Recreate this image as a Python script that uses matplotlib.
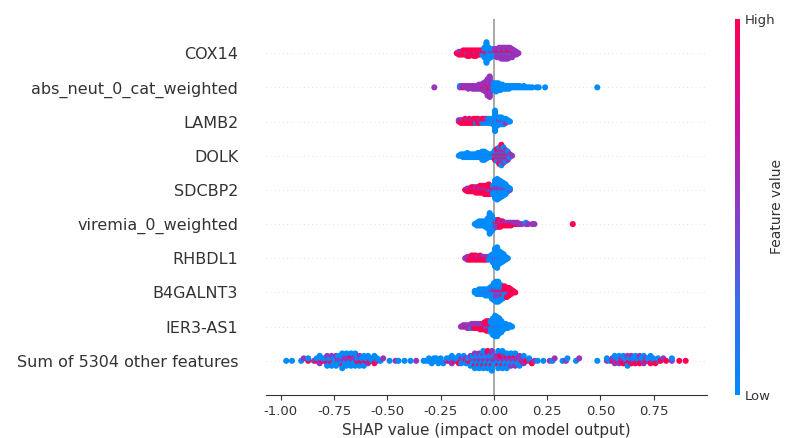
import numpy as np
import matplotlib
matplotlib.use("Agg")
import matplotlib.pyplot as plt
from matplotlib.colors import LinearSegmentedColormap

features = ["COX14", "abs_neut_0_cat_weighted", "LAMB2", "DOLK", "SDCBP2",
            "viremia_0_weighted", "RHBDL1", "B4GALNT3", "IER3-AS1",
            "Sum of 5304 other features"]

# clusters: (SHAP value, n high, n mid, n low)
cox14 = [(-0.175, 1, 0, 0), (-0.165, 2, 1, 0), (-0.155, 2, 1, 0), (-0.145, 3, 1, 0),
         (-0.135, 3, 1, 0), (-0.125, 3, 1, 1), (-0.115, 4, 1, 0), (-0.105, 3, 1, 0),
         (-0.095, 4, 1, 0), (-0.085, 3, 1, 1), (-0.075, 3, 1, 0), (-0.065, 3, 1, 0),
         (-0.055, 2, 1, 1), (-0.045, 2, 1, 5), (-0.035, 2, 2, 12), (-0.025, 1, 1, 7),
         (-0.015, 1, 2, 4), (-0.005, 1, 2, 3), (0.005, 1, 3, 2), (0.015, 2, 4, 1),
         (0.025, 2, 5, 1), (0.035, 2, 5, 2), (0.045, 3, 5, 1), (0.055, 2, 5, 2),
         (0.065, 3, 5, 1), (0.075, 2, 5, 1), (0.085, 2, 4, 1), (0.095, 1, 3, 0),
         (0.105, 1, 2, 0), (0.115, 0, 1, 0)]

abs_neut = [(-0.28, 0, 1, 0), (-0.16, 0, 1, 1), (-0.15, 0, 2, 0), (-0.14, 1, 1, 0),
            (-0.13, 0, 2, 0), (-0.12, 1, 2, 0), (-0.11, 0, 2, 0), (-0.10, 1, 2, 0),
            (-0.09, 1, 2, 0), (-0.08, 1, 2, 0), (-0.07, 1, 3, 0), (-0.06, 1, 3, 0),
            (-0.05, 2, 4, 0), (-0.04, 2, 6, 0), (-0.03, 3, 9, 1), (-0.02, 4, 12, 0),
            (-0.01, 1, 4, 1), (0.00, 0, 1, 5), (0.01, 0, 0, 7), (0.02, 0, 0, 6),
            (0.03, 0, 0, 5), (0.04, 0, 0, 4), (0.05, 0, 0, 3), (0.06, 0, 0, 3),
            (0.07, 0, 0, 3), (0.08, 0, 0, 2), (0.09, 0, 0, 2), (0.10, 0, 0, 2),
            (0.11, 0, 0, 2), (0.12, 0, 0, 2), (0.13, 0, 0, 1), (0.14, 0, 0, 2),
            (0.15, 0, 0, 1), (0.16, 0, 0, 1), (0.17, 0, 0, 1), (0.18, 0, 0, 1),
            (0.20, 0, 0, 1), (0.21, 0, 0, 1), (0.24, 0, 0, 1), (0.485, 0, 0, 1)]

lamb2 = [(-0.165, 1, 1, 0), (-0.155, 2, 1, 0), (-0.145, 2, 1, 0), (-0.135, 3, 1, 0),
         (-0.125, 2, 1, 0), (-0.115, 3, 1, 0), (-0.105, 2, 1, 0), (-0.095, 3, 1, 0),
         (-0.085, 2, 1, 1), (-0.075, 3, 1, 0), (-0.065, 2, 1, 0), (-0.055, 2, 1, 1),
         (-0.045, 2, 1, 1), (-0.035, 1, 2, 1), (-0.025, 1, 1, 2), (-0.015, 1, 1, 2),
         (-0.005, 0, 1, 4), (0.005, 0, 2, 14), (0.015, 0, 1, 6), (0.025, 1, 2, 3),
         (0.035, 0, 2, 4), (0.045, 1, 1, 3), (0.055, 0, 2, 2), (0.065, 0, 1, 1),
         (0.075, 0, 0, 1)]

dolk = [(-0.165, 0, 0, 1), (-0.155, 0, 0, 2), (-0.145, 0, 0, 3), (-0.135, 0, 0, 3),
        (-0.125, 0, 1, 3), (-0.115, 0, 0, 3), (-0.105, 0, 0, 3), (-0.095, 0, 0, 3),
        (-0.085, 0, 0, 3), (-0.075, 0, 1, 3), (-0.065, 0, 0, 4), (-0.055, 0, 1, 6),
        (-0.045, 0, 1, 6), (-0.035, 0, 0, 5), (-0.025, 0, 1, 2), (-0.015, 0, 1, 2),
        (-0.005, 1, 1, 2), (0.005, 3, 2, 3), (0.015, 4, 3, 3), (0.025, 5, 4, 4),
        (0.035, 6, 5, 5), (0.045, 4, 4, 4), (0.055, 3, 3, 3), (0.065, 2, 3, 2),
        (0.075, 1, 1, 1), (0.085, 0, 1, 0)]

sdcbp2 = [(-0.135, 1, 0, 0), (-0.125, 2, 1, 0), (-0.115, 2, 1, 0), (-0.105, 3, 1, 0),
          (-0.095, 3, 1, 0), (-0.085, 3, 2, 0), (-0.075, 4, 1, 0), (-0.065, 4, 2, 0),
          (-0.055, 4, 2, 0), (-0.045, 5, 2, 0), (-0.035, 5, 2, 0), (-0.025, 5, 2, 1),
          (-0.015, 4, 2, 1), (-0.005, 2, 2, 3), (0.005, 1, 3, 10), (0.015, 1, 3, 12),
          (0.025, 1, 3, 10), (0.035, 1, 2, 9), (0.045, 1, 2, 7), (0.055, 1, 2, 5),
          (0.065, 0, 1, 3), (0.075, 0, 1, 1)]

viremia = [(-0.09, 0, 0, 1), (-0.08, 0, 0, 3), (-0.07, 0, 0, 4), (-0.06, 0, 0, 4),
           (-0.05, 0, 0, 4), (-0.04, 0, 0, 5), (-0.03, 0, 0, 8), (-0.02, 0, 0, 16),
           (-0.01, 0, 0, 12), (0.00, 0, 1, 6), (0.01, 2, 2, 2), (0.02, 3, 2, 1),
           (0.03, 3, 2, 0), (0.04, 3, 1, 0), (0.05, 2, 1, 0), (0.06, 2, 1, 0),
           (0.07, 2, 1, 0), (0.08, 2, 1, 0), (0.09, 1, 1, 0), (0.10, 1, 1, 0),
           (0.11, 1, 1, 0), (0.12, 0, 1, 0), (0.13, 0, 1, 0), (0.15, 0, 1, 1),
           (0.16, 0, 1, 0), (0.18, 0, 1, 0), (0.19, 0, 1, 0), (0.37, 1, 0, 0)]

rhbdl1 = [(-0.135, 0, 1, 0), (-0.125, 1, 2, 0), (-0.115, 2, 1, 0), (-0.105, 3, 1, 0),
          (-0.095, 3, 1, 0), (-0.085, 3, 1, 0), (-0.075, 2, 1, 0), (-0.065, 3, 1, 0),
          (-0.055, 2, 1, 0), (-0.045, 2, 1, 0), (-0.035, 2, 1, 0), (-0.025, 1, 1, 1),
          (-0.015, 1, 1, 2), (-0.005, 0, 1, 6), (0.005, 0, 2, 12), (0.015, 0, 2, 14),
          (0.025, 0, 1, 9), (0.035, 0, 1, 7), (0.045, 0, 1, 5), (0.055, 0, 0, 3),
          (0.065, 0, 0, 1)]

b4galnt3 = [(-0.09, 0, 0, 2), (-0.08, 0, 0, 3), (-0.07, 0, 0, 4), (-0.06, 0, 0, 4),
            (-0.05, 0, 0, 4), (-0.04, 0, 1, 4), (-0.03, 0, 1, 4), (-0.02, 0, 1, 5),
            (-0.01, 1, 2, 6), (0.00, 1, 3, 8), (0.01, 2, 4, 8), (0.02, 2, 4, 8),
            (0.03, 2, 3, 6), (0.04, 3, 2, 4), (0.05, 4, 1, 3), (0.06, 4, 1, 2),
            (0.07, 4, 1, 1), (0.08, 3, 1, 0), (0.09, 2, 0, 0), (0.10, 1, 0, 0)]

ier3_as1 = [(-0.155, 0, 1, 0), (-0.145, 0, 2, 0), (-0.135, 1, 1, 0), (-0.125, 1, 2, 0),
            (-0.115, 1, 2, 0), (-0.105, 1, 2, 1), (-0.095, 2, 2, 0), (-0.085, 2, 2, 0),
            (-0.075, 2, 2, 0), (-0.065, 3, 2, 0), (-0.055, 3, 2, 0), (-0.045, 4, 2, 0),
            (-0.035, 5, 2, 1), (-0.025, 5, 2, 1), (-0.015, 2, 1, 6), (-0.005, 1, 1, 11),
            (0.005, 0, 2, 14), (0.015, 0, 1, 14), (0.025, 0, 1, 11), (0.035, 0, 1, 8),
            (0.045, 0, 0, 5), (0.055, 0, 0, 4), (0.065, 0, 0, 3), (0.075, 0, 0, 2),
            (0.085, 0, 0, 1)]

other = [(-0.975, 0, 0, 1), (-0.948, 0, 0, 1), (-0.905, 0, 0, 1), (-0.893, 0, 1, 0),
         (-0.872, 1, 0, 1), (-0.845, 0, 1, 0), (-0.832, 1, 0, 1), (-0.818, 0, 1, 1),
         (-0.806, 1, 0, 1), (-0.795, 0, 1, 1), (-0.783, 1, 1, 1), (-0.772, 0, 1, 1),
         (-0.762, 1, 1, 1), (-0.751, 1, 0, 2), (-0.741, 0, 1, 1), (-0.732, 1, 1, 2),
         (-0.721, 1, 1, 2), (-0.712, 1, 0, 2), (-0.701, 1, 1, 1), (-0.692, 0, 1, 2),
         (-0.683, 1, 1, 1), (-0.671, 1, 0, 2), (-0.662, 1, 1, 1), (-0.651, 0, 1, 2),
         (-0.642, 1, 0, 1), (-0.631, 1, 1, 1), (-0.622, 1, 0, 1), (-0.611, 0, 1, 2),
         (-0.602, 1, 0, 1), (-0.591, 0, 1, 1), (-0.582, 1, 0, 1), (-0.571, 0, 0, 2),
         (-0.561, 1, 0, 1), (-0.548, 0, 1, 1), (-0.533, 0, 0, 1), (-0.520, 0, 1, 0),
         (-0.490, 0, 0, 1), (-0.462, 0, 1, 0), (-0.448, 0, 0, 1), (-0.420, 0, 0, 1),
         (-0.392, 0, 0, 1), (-0.365, 0, 1, 0), (-0.330, 0, 0, 1), (-0.318, 0, 0, 1),
         (-0.305, 0, 0, 2), (-0.292, 0, 0, 1), (-0.282, 0, 0, 2), (-0.271, 0, 0, 2),
         (-0.261, 0, 0, 1), (-0.250, 0, 0, 2), (-0.238, 0, 0, 1), (-0.222, 0, 1, 1),
         (-0.210, 1, 0, 1), (-0.198, 0, 1, 1), (-0.187, 1, 0, 1), (-0.176, 0, 1, 1),
         (-0.165, 1, 0, 1), (-0.153, 1, 1, 1), (-0.142, 0, 0, 1), (-0.131, 1, 1, 1),
         (-0.121, 1, 0, 1), (-0.110, 1, 1, 1), (-0.100, 1, 1, 2), (-0.090, 1, 1, 1),
         (-0.080, 1, 1, 2), (-0.070, 1, 1, 1), (-0.060, 1, 1, 2), (-0.050, 1, 1, 2),
         (-0.040, 1, 1, 2), (-0.030, 2, 1, 1), (-0.020, 1, 1, 2), (-0.010, 1, 2, 2),
         (0.000, 1, 1, 2), (0.010, 1, 2, 1), (0.020, 1, 1, 2), (0.030, 2, 1, 1),
         (0.040, 1, 1, 2), (0.050, 1, 1, 1), (0.060, 1, 1, 2), (0.070, 1, 1, 1),
         (0.080, 1, 1, 1), (0.090, 1, 1, 1), (0.100, 1, 1, 1), (0.110, 1, 1, 1),
         (0.120, 0, 1, 1), (0.130, 1, 1, 0), (0.140, 0, 1, 1), (0.152, 1, 0, 0),
         (0.165, 0, 1, 1), (0.178, 1, 0, 0), (0.190, 0, 1, 0), (0.205, 0, 0, 1),
         (0.232, 0, 0, 1), (0.262, 0, 1, 0), (0.275, 0, 0, 1), (0.285, 0, 1, 0),
         (0.322, 0, 0, 1), (0.338, 0, 1, 0), (0.345, 0, 0, 1), (0.385, 0, 0, 1),
         (0.400, 0, 1, 0), (0.485, 0, 0, 1), (0.530, 0, 1, 1), (0.545, 0, 0, 1),
         (0.556, 1, 1, 0), (0.567, 0, 1, 1), (0.578, 1, 0, 1), (0.588, 0, 1, 1),
         (0.598, 1, 1, 0), (0.607, 1, 0, 1), (0.617, 0, 1, 1), (0.627, 1, 1, 1),
         (0.636, 1, 0, 1), (0.645, 1, 1, 0), (0.655, 0, 1, 1), (0.664, 1, 0, 1),
         (0.674, 0, 1, 1), (0.684, 1, 1, 0), (0.694, 1, 0, 1), (0.703, 0, 1, 1),
         (0.713, 1, 1, 0), (0.723, 0, 1, 1), (0.735, 1, 0, 1), (0.747, 0, 1, 1),
         (0.758, 1, 0, 0), (0.770, 0, 1, 1), (0.782, 1, 0, 0), (0.795, 0, 1, 0),
         (0.808, 1, 0, 0), (0.835, 0, 1, 1), (0.870, 1, 0, 0), (0.900, 1, 0, 0)]

rows = [cox14, abs_neut, lamb2, dolk, sdcbp2, viremia, rhbdl1, b4galnt3, ier3_as1, other]

# feature value used for each colour class
HIGH, MID, LOW = 1.0, 0.55, 0.0

cmap = LinearSegmentedColormap.from_list(
    "red_blue", [(0.0, "#008bfc"), (0.25, "#3d6ae8"), (0.5, "#8a3bc4"),
                 (0.75, "#cf1196"), (1.0, "#ff0051")])


def expand(clusters):
    xs, cs = [], []
    for x, nh, nm, nl in clusters:
        pools = [[HIGH] * nh, [MID] * nm, [LOW] * nl]
        # mix the colours inside one stack
        while any(pools):
            for p in pools:
                if p:
                    xs.append(x)
                    cs.append(p.pop())
    return np.array(xs), np.array(cs)


def swarm(xs, nbins=100, row_height=0.4):
    # same stacking rule as shap's beeswarm
    quant = np.round(nbins * (xs - xs.min()) / (xs.max() - xs.min() + 1e-8))
    inds = np.argsort(quant, kind="stable")
    ys = np.zeros(len(xs))
    layer, last = 0, None
    for i in inds:
        if quant[i] != last:
            layer = 0
        ys[i] = np.ceil(layer / 2) * ((layer % 2) * 2 - 1)
        layer += 1
        last = quant[i]
    ys *= 0.9 * (row_height / np.max(ys + 1))
    return ys


fig = plt.figure(figsize=(7.87, 4.38), dpi=100)
ax = fig.add_axes([266 / 787, 43 / 438, 441 / 787, 376 / 438])
axis_color = "#333333"

n = len(features)
for i, clusters in enumerate(rows):
    pos = n - 1 - i
    ax.axhline(y=pos, color="#cccccc", lw=0.5, dashes=(1, 5), zorder=-1)
    xs, cs = expand(clusters)
    ys = swarm(xs)
    ax.scatter(xs, pos + ys, c=cs, cmap=cmap, vmin=0, vmax=1, s=19,
               linewidth=0, alpha=1, zorder=3)

ax.axvline(x=0, color="#999999", lw=1.2, zorder=-1)

ax.set_xlim(-1.07, 1.0)
ax.set_ylim(-1, n)
ax.set_yticks(range(n))
ax.set_yticklabels(features[::-1], fontsize=11.5)
ax.set_xticks([-1.0, -0.75, -0.5, -0.25, 0.0, 0.25, 0.5, 0.75])
ax.xaxis.set_major_formatter(matplotlib.ticker.FormatStrFormatter("%.2f"))
ax.tick_params("x", labelsize=9.5, color=axis_color, labelcolor=axis_color)
ax.tick_params("y", length=0, pad=20, labelcolor=axis_color)
for s in ["top", "right", "left"]:
    ax.spines[s].set_visible(False)
ax.spines["bottom"].set_color(axis_color)
ax.set_xlabel("SHAP value (impact on model output)", fontsize=11, color=axis_color)

cax = fig.add_axes([735 / 787, 43 / 438, 5 / 787, 376 / 438])
sm = plt.cm.ScalarMappable(cmap=cmap, norm=plt.Normalize(0, 1))
cb = fig.colorbar(sm, cax=cax, ticks=[0, 1])
cb.set_ticklabels(["Low", "High"])
cb.ax.tick_params(labelsize=9.5, length=0, labelcolor=axis_color)
cb.set_label("Feature value", size=10, labelpad=-4, color=axis_color)
cb.outline.set_visible(False)

fig.savefig("out.png", dpi=100)
